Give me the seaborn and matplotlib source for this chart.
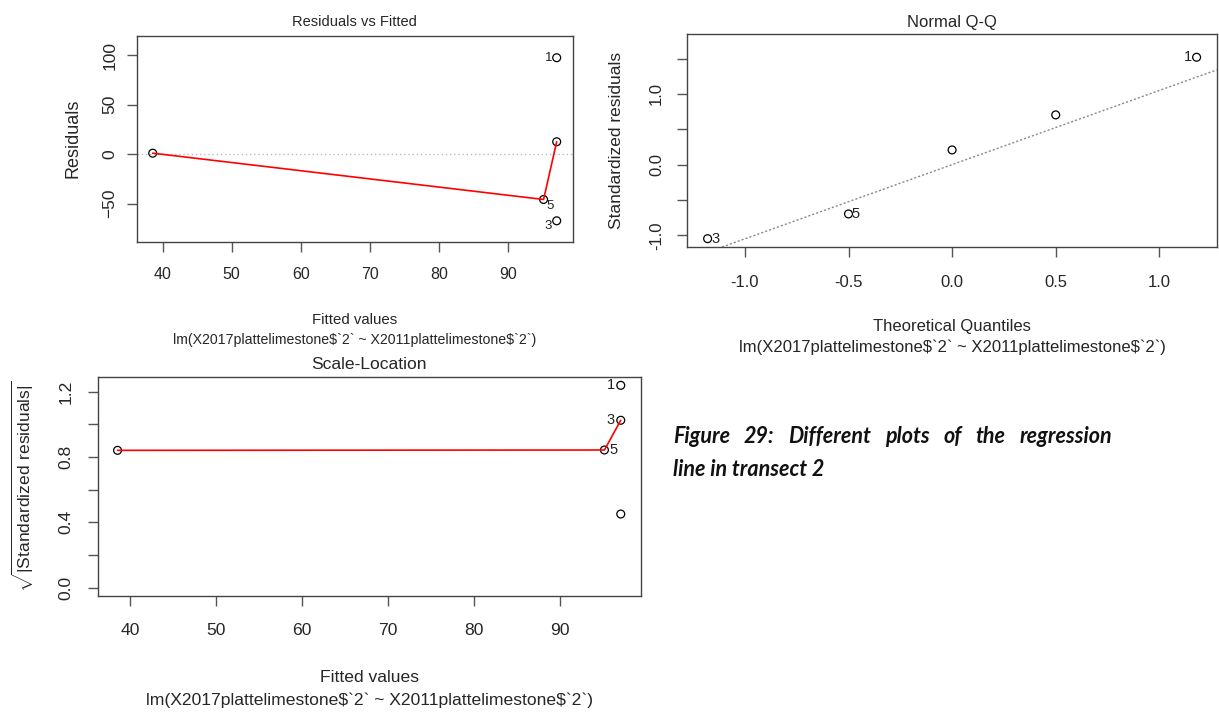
import matplotlib
matplotlib.use("Agg")
import matplotlib.pyplot as plt
import seaborn as sns
import pandas as pd

obs_id = [1, 2, 3, 4, 5]
fitted = [97.1, 97.1, 97.1, 38.55, 95.2]
residuals = [97.3, 12.5, -67.2, 1.0, -45.7]
std_resid = [1.52, 0.208, -1.048, 0.704, -0.698]
theo_quant = [1.18, 0.0, -1.18, 0.50, -0.50]
sqrt_std_resid = [1.239, 0.451, 1.025, 0.841, 0.843]

# red lowess smoother
smooth_x = [38.55, 95.2, 97.1]
smooth_resid = [1.0, -45.7, 12.5]
smooth_scale = [0.841, 0.843, 1.025]

# qq reference line
qq_intercept = 0.0
qq_slope = 1.05

model_txt = "lm(X2017plattelimestone$`2` ~ X2011plattelimestone$`2`)"
caption1 = "Figure 29: Different plots of the regression"
caption2 = "line in transect 2"

df = pd.DataFrame({"id": obs_id, "fitted": fitted, "resid": residuals,
                   "std": std_resid, "theo": theo_quant, "sl": sqrt_std_resid})
smooth = pd.DataFrame({"x": smooth_x, "resid": smooth_resid, "sl": smooth_scale})

sns.set_theme(style="white")
REG = "Liberation Sans"
plt.rcParams["font.family"] = [REG, "DejaVu Sans"]
plt.rcParams["mathtext.fontset"] = "custom"
plt.rcParams["mathtext.rm"] = REG

W, H = 1219, 713
fig = plt.figure(figsize=(W / 100, H / 100), dpi=100)


def box(l, t, r, b):
    return [l / W, 1 - b / H, (r - l) / W, (b - t) / H]


def style_axes(ax, xpad, ypad):
    for s in ax.spines.values():
        s.set_color("#444444")
        s.set_linewidth(1.0)
    ax.tick_params(axis="both", direction="out", length=7, width=1,
                   color="#555555", bottom=True, left=True)
    ax.tick_params(axis="x", pad=xpad)
    ax.tick_params(axis="y", pad=ypad, labelrotation=90)
    for lab in ax.get_yticklabels():
        lab.set_va("center")


def points(ax, x, y):
    sns.scatterplot(data=df, x=x, y=y, ax=ax, s=32, marker="o",
                    facecolor="none", edgecolor="black", linewidth=0.9,
                    legend=False)


def label_points(ax, x, y, offsets, size):
    for i, px, py in zip(df["id"], df[x], df[y]):
        if int(i) in offsets:
            dx, dy = offsets[int(i)]
            ax.annotate(str(int(i)), (px, py), xytext=(dx, dy),
                        textcoords="offset points", ha="center", va="center",
                        fontsize=size, color="#222222")


# ---- Residuals vs Fitted (horizontally squeezed in the source) ----
ax1 = fig.add_axes(box(136.7, 35.7, 572.7, 241.7))
ax1.axhline(0, color="#bbbbbb", lw=1, ls=(0, (1, 2)))
sns.lineplot(data=smooth, x="x", y="resid", ax=ax1, color="red", lw=1.2,
             sort=False, estimator=None)
points(ax1, "fitted", "resid")
ax1.set_xlim(36.23, 99.42)
ax1.set_ylim(-88.3, 119.5)
ax1.set_xticks([40, 50, 60, 70, 80, 90])
ax1.set_yticks([-50, 0, 50, 100])
style_axes(ax1, 11.5, 6.8)
for lab in ax1.get_xticklabels():
    lab.set_fontsize(11.5)
for lab in ax1.get_yticklabels():
    lab.set_fontsize(12.5)
ax1.set_title("Residuals vs Fitted", fontsize=10.5, pad=7)
ax1.set_xlabel("")
ax1.set_ylabel("Residuals", fontsize=13, labelpad=15)
ax1.text(0.5, -0.38, "Fitted values", transform=ax1.transAxes, ha="center",
         va="center", fontsize=10.8)
ax1.text(0.5, -0.475, model_txt, transform=ax1.transAxes, ha="center",
         va="center", fontsize=10.2, parse_math=False)
label_points(ax1, "fitted", "resid", {1: (-6, 0), 3: (-6, -4), 5: (5, -4.5)}, 9.5)

# ---- Normal Q-Q ----
ax2 = fig.add_axes(box(687.3, 34.3, 1216.7, 247))
ax2.axline((0, qq_intercept), slope=qq_slope, color="#888888", lw=1,
           ls=(0, (1.5, 1.5)))
points(ax2, "theo", "std")
ax2.set_xlim(-1.278, 1.277)
ax2.set_ylim(-1.166, 1.845)
ax2.set_xticks([-1.0, -0.5, 0.0, 0.5, 1.0])
ax2.set_xticklabels(["-1.0", "-0.5", "0.0", "0.5", "1.0"])
ax2.set_yticks([-1.0, -0.5, 0.0, 0.5, 1.0, 1.5])
ax2.set_yticklabels(["-1.0", "", "0.0", "", "1.0", ""])
style_axes(ax2, 13, 9.6)
for lab in ax2.get_xticklabels() + ax2.get_yticklabels():
    lab.set_fontsize(12)
ax2.set_title("Normal Q-Q", fontsize=12, pad=5.6)
ax2.set_xlabel("")
ax2.set_ylabel("Standardized residuals", fontsize=12.5, labelpad=18)
ax2.text(0.5, -0.375, "Theoretical Quantiles", transform=ax2.transAxes,
         ha="center", va="center", fontsize=12)
ax2.text(0.5, -0.47, model_txt, transform=ax2.transAxes, ha="center",
         va="center", fontsize=12, parse_math=False)
label_points(ax2, "theo", "std", {1: (-6.5, 0), 3: (6, 0), 5: (5.3, 0)}, 10.5)

# ---- Scale-Location ----
ax3 = fig.add_axes(box(97.7, 377, 640.7, 595.7))
sns.lineplot(data=smooth, x="x", y="sl", ax=ax3, color="red", lw=1.2,
             sort=False, estimator=None)
points(ax3, "fitted", "sl")
ax3.set_xlim(36.24, 99.42)
ax3.set_ylim(-0.049, 1.29)
ax3.set_xticks([40, 50, 60, 70, 80, 90])
ax3.set_yticks([0.0, 0.2, 0.4, 0.6, 0.8, 1.0, 1.2])
ax3.set_yticklabels(["0.0", "", "0.4", "", "0.8", "", "1.2"])
style_axes(ax3, 12.7, 10.4)
for lab in ax3.get_xticklabels() + ax3.get_yticklabels():
    lab.set_fontsize(12.6)
ax3.set_title("Scale-Location", fontsize=12.6, pad=6)
ax3.set_xlabel("")
ax3.set_ylabel(r"$\sqrt{\mathregular{|Standardized\ residuals|}}$",
               fontsize=12.6, labelpad=16)
ax3.text(0.5, -0.372, "Fitted values", transform=ax3.transAxes, ha="center",
         va="center", fontsize=12.6)
ax3.text(0.5, -0.477, model_txt, transform=ax3.transAxes, ha="center",
         va="center", fontsize=12.6, parse_math=False)
label_points(ax3, "fitted", "sl", {1: (-7, 0), 3: (-7.5, 0), 5: (6.5, 0)}, 10.5)

# ---- caption (first line justified like the document text) ----
cap_kw = dict(family=["Lato", "DejaVu Sans"], fontsize=15.5,
              fontweight="bold", style="italic", va="baseline", color="#111111")
fig.canvas.draw()
renderer = fig.canvas.get_renderer()
words = caption1.split()
word_txt = [fig.text(0, 1 - 443 / H, w, **cap_kw) for w in words]
widths = [t.get_window_extent(renderer).width for t in word_txt]
left, right = 673, 1112
gap = (right - left - sum(widths)) / (len(words) - 1)
xpos = left
for t, w in zip(word_txt, widths):
    t.set_x(xpos / W)
    xpos += w + gap
fig.text(left / W, 1 - 476 / H, caption2, **cap_kw)

fig.savefig("out.png", dpi=100)
